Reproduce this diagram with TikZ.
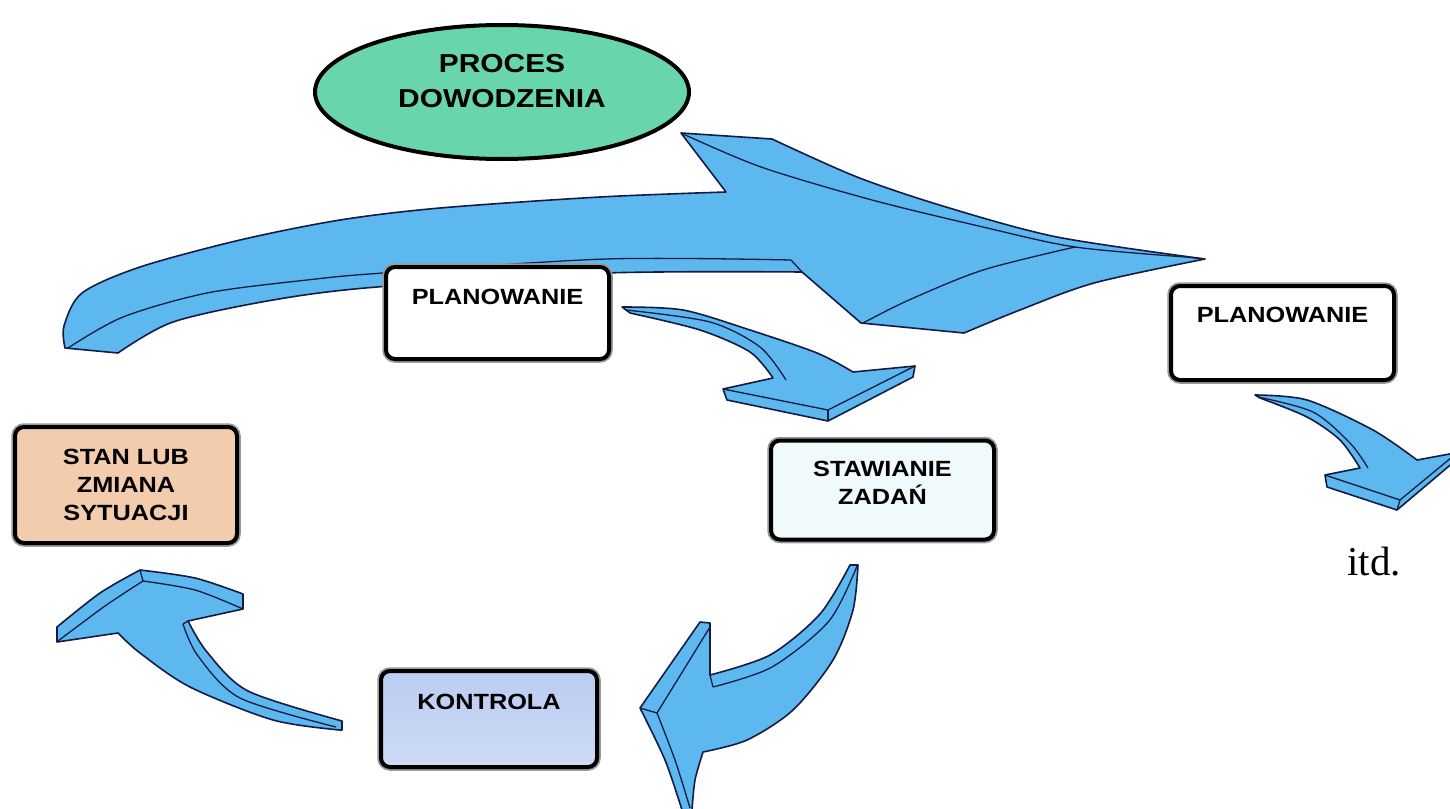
\documentclass[tikz,border=0pt]{standalone}
\usepackage{fontspec}
\setmainfont{Liberation Sans}
\newfontfamily\boxfont{Liberation Sans}[FakeStretch=1.15]
\newfontfamily\seriffont{Liberation Serif}
\usetikzlibrary{shapes.geometric}
\definecolor{arrowblue}{RGB}{92,184,238}
\definecolor{arrowline}{RGB}{20,28,70}
\definecolor{ellgreen}{RGB}{104,214,170}
\definecolor{peach}{RGB}{242,204,172}
\definecolor{paleblue}{RGB}{240,250,252}
\definecolor{lavender}{RGB}{186,204,242}
\tikzset{
  arrowbody/.style={fill=arrowblue, draw=arrowline, line width=1.6pt, line join=round},
  edgeline/.style={draw=arrowline, line width=1.3pt, line join=round},
  box/.style={draw=black, line width=4pt, rounded corners=9pt,
    preaction={draw=black!40, line width=7.5pt}},
  boxtext/.style={font=\boxfont\bfseries\fontsize{22}{28}\selectfont, align=center, inner sep=0pt},
}
\begin{document}
\begin{tikzpicture}[x=1pt,y=-1pt]
\useasboundingbox (0,0) rectangle (1450,808);
\fill[white] (0,0) rectangle (1450,808);

% big arrow
\path[arrowbody] plot[smooth] coordinates {(65,348) (64,326) (82,293) (140,267) (240,240) (340,220) (440,208) (600,197) (726,192)}
  -- (681,133) -- (772,139)
  -- plot[smooth] coordinates {(772,139) (857,177) (946,207) (1057,237) (1205,259)}
  -- plot[smooth] coordinates {(1205,259) (1094,283) (1020,310) (964,333)}
  -- (861,323) -- (802,272)
  -- plot[smooth] coordinates {(802,272) (606,273) (377,287) (273,300) (173,322) (118,353)}
  -- cycle;
\draw[edgeline] plot[smooth] coordinates {(68,348) (123,317) (207,293) (307,280) (383,273) (606,259) (791,260)} -- (802,272);
\draw[edgeline] plot[smooth] coordinates {(681,133) (761,167) (872,200) (983,227) (1075,247) (1186,257)} -- (1205,259);
\draw[edgeline] plot[smooth] coordinates {(863,323) (909,300) (983,270) (1075,247)};

% arrow PLANOWANIE -> STAWIANIE
\path[arrowbody] plot[smooth] coordinates {(622,307) (683,310) (750,330) (817,353) (853,372)}
  -- (915,366) -- (913,377) -- (828,421) -- (727,400) -- (723,389) -- (773,378)
  -- plot[smooth] coordinates {(773,378) (750,352) (700,330) (630,313)} -- cycle;
\draw[edgeline] (915,366) -- (828,410) -- (723,389);
\draw[edgeline] (828,410) -- (828,421);
\draw[edgeline] plot[smooth] coordinates {(626,310) (710,322) (760,347) (786,380)};

% arrow STAWIANIE -> KONTROLA
\path[arrowbody] plot[smooth] coordinates {(858,565) (853,610) (833,660) (793,710) (747,740) (703,752)}
  -- plot[smooth] coordinates {(703,752) (695,780) (692,810)}
  -- (682,810)
  -- plot[smooth] coordinates {(682,810) (665,760) (640,708)}
  -- (700,622) -- (710,623) -- (710,675)
  -- plot[smooth] coordinates {(710,675) (770,655) (820,614) (850,565)} -- cycle;
\draw[edgeline] (640,708) -- (657,713);
\draw[edgeline] plot[smooth] coordinates {(657,713) (675,760) (690,808)};
\draw[edgeline] (657,713) -- (710,627);
\draw[edgeline] (710,675) -- (713,687);
\draw[edgeline] plot[smooth] coordinates {(713,687) (772,667) (829,621) (857,566)};

% arrow KONTROLA -> STAN
\path[arrowbody] plot[smooth] coordinates {(57,627) (100,593) (140,570)}
  -- plot[smooth] coordinates {(140,570) (195,578) (243,594)}
  -- (243,609) -- (188,621)
  -- plot[smooth] coordinates {(188,621) (207,652) (248,691) (342,721)}
  -- (342,730)
  -- plot[smooth] coordinates {(340,730) (273,720) (190,687) (140,653) (118,633)}
  -- (57,642) -- cycle;
\draw[edgeline] (140,570) -- (143,581);
\draw[edgeline] plot[smooth] coordinates {(58,641) (105,606) (143,581)};
\draw[edgeline] plot[smooth] coordinates {(143,581) (195,590) (243,609)};
\draw[edgeline] (188,621) -- (183,624);
\draw[edgeline] plot[smooth] coordinates {(183,624) (198,656) (240,698) (336,727)};

% arrow right PLANOWANIE -> itd.
\path[arrowbody] plot[smooth] coordinates {(1255,395) (1307,400) (1373,430) (1417,460)}
  -- (1455,453) -- (1455,461) -- (1397,510) -- (1327,487) -- (1325,475) -- (1360,468)
  -- plot[smooth] coordinates {(1360,468) (1340,440) (1307,417) (1260,398)} -- cycle;
\draw[edgeline] (1452,457) -- (1400,500) -- (1325,475);
\draw[edgeline] (1400,500) -- (1397,510);
\draw[edgeline] plot[smooth] coordinates {(1258,397) (1313,412) (1350,443) (1368,468)};

% ellipse
\node (proces) [ellipse, draw=black, line width=4pt, fill=ellgreen, minimum width=374pt, minimum height=134pt] at (502,92) {};
\node (procest) [font=\boxfont\bfseries\fontsize{26}{35}\selectfont, align=center, inner sep=0pt] at (502,81) {PROCES\\DOWODZENIA};

% boxes
\node (plan1) [box, fill=white, minimum width=223pt, minimum height=92pt] at (497.5,313) {};
\node (plan1t) [boxtext] at (497.5,297) {PLANOWANIE};

\node (plan2) [box, fill=white, minimum width=223pt, minimum height=94pt] at (1282.5,333) {};
\node (plan2t) [boxtext] at (1282.5,315) {PLANOWANIE};

\node (stan) [box, fill=peach, minimum width=222pt, minimum height=116pt] at (126,485) {};
\node (stant) [boxtext] at (126,485) {STAN LUB\\ZMIANA\\SYTUACJI};

\node (staw) [box, fill=paleblue, minimum width=223pt, minimum height=99pt] at (882.5,490) {};
\node (stawt) [boxtext] at (882.5,483) {STAWIANIE\\ZADAŃ};

\node (kontr) [box, top color=lavender, bottom color=lavender!70!white, minimum width=216pt, minimum height=96pt] at (489,719) {};
\node (kontrt) [boxtext] at (489,702) {KONTROLA};

\node (itd) [font=\seriffont\fontsize{41}{48}\selectfont, anchor=base west, inner sep=0pt] at (1347,575) {itd.};
\end{tikzpicture}
\end{document}
